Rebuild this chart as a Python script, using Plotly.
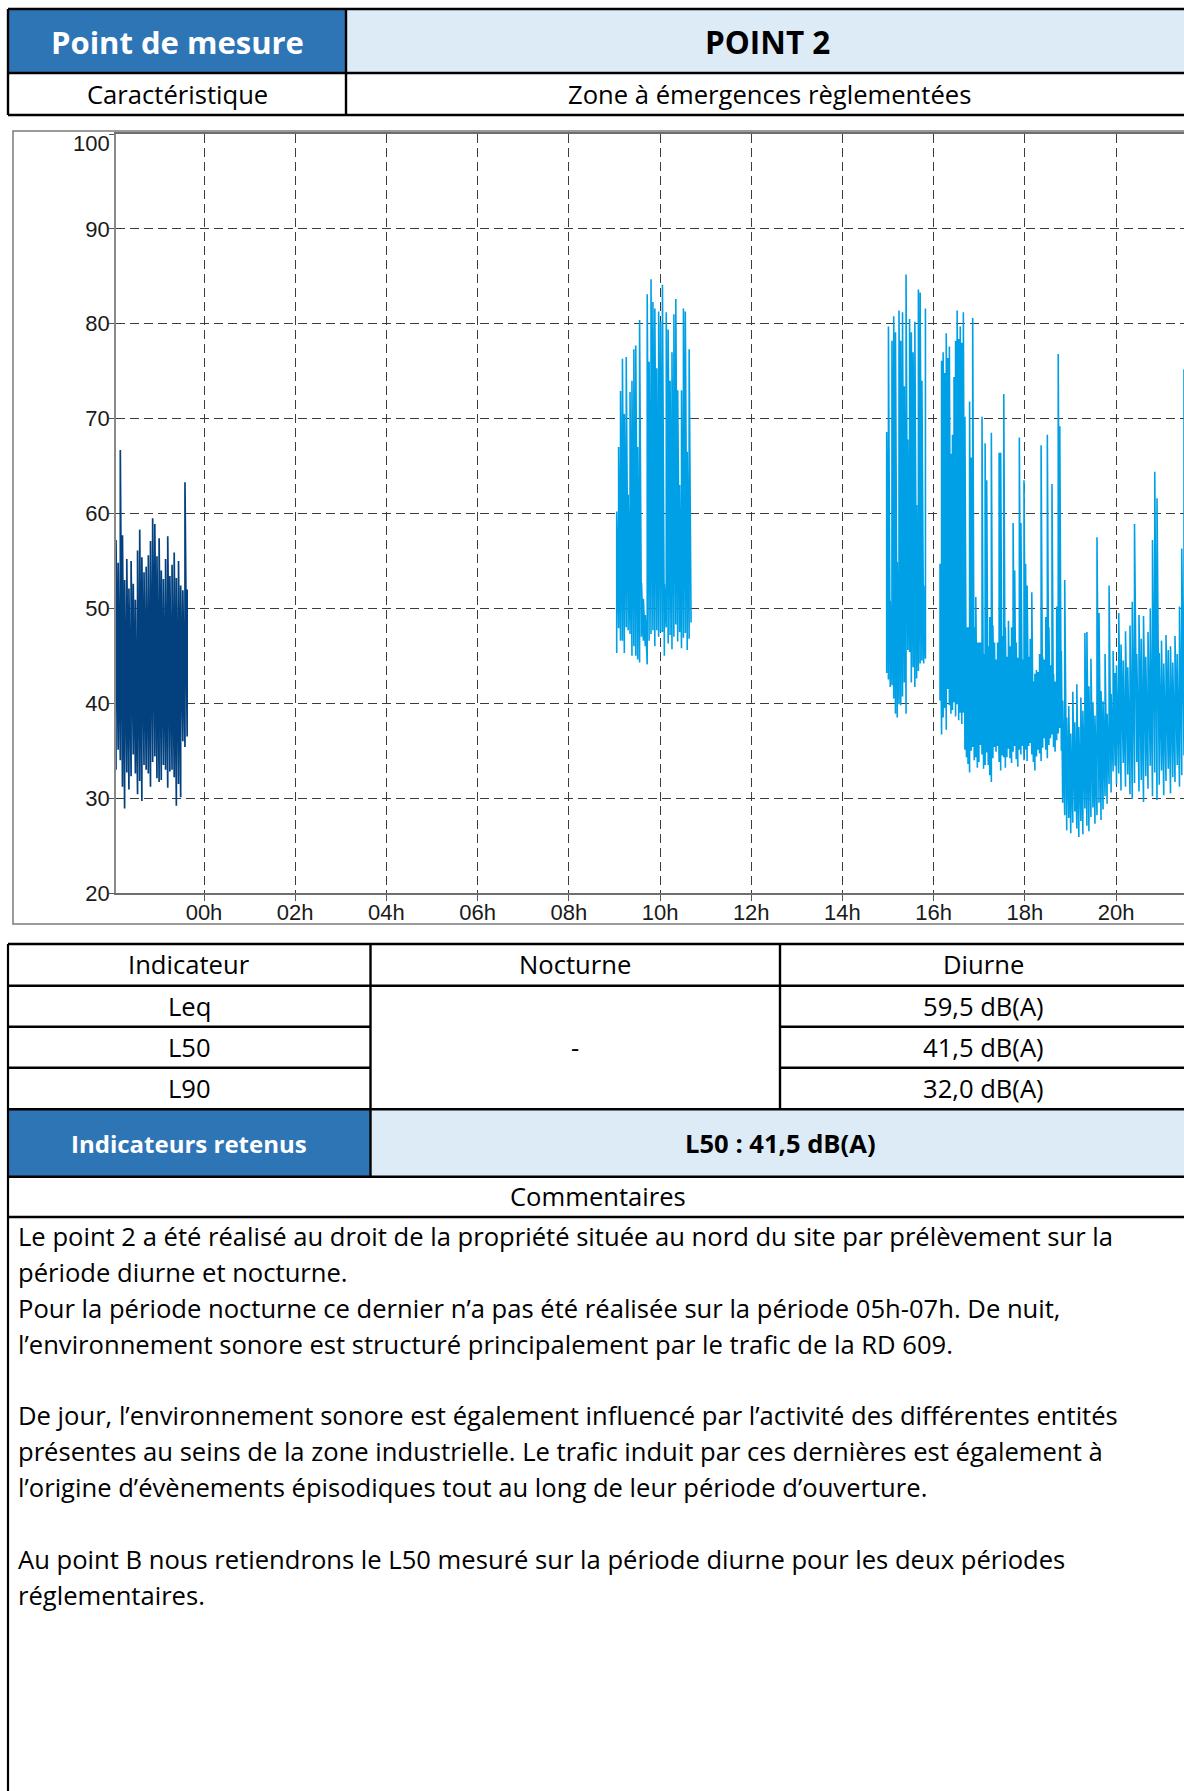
import plotly.graph_objects as go

# ---------------------------------------------------------------------------
# Measurement data: sound level (dB(A)), min / max envelope per time bin.
# Times are hours relative to midnight (negative = evening before).
# ---------------------------------------------------------------------------
NUIT_T = (-1.93, -0.37)
nuit_max = [57.2, 54.8, 66.7, 57.7, 53.0, 55.2, 52.1, 55.0, 52.6, 50.9,
            56.1, 58.3, 55.4, 53.8, 54.4, 55.6, 57.1, 59.5, 58.9, 55.5,
            57.4, 54.0, 53.1, 55.2, 57.6, 53.4, 54.6, 55.9, 53.2, 55.0,
            52.4, 51.9, 63.3, 52.0]
nuit_min = [33.0, 35.1, 34.0, 31.2, 28.9, 32.7, 30.9, 32.3, 34.6, 32.6,
            30.4, 31.8, 29.7, 33.5, 33.0, 32.6, 31.2, 33.8, 34.4, 32.1,
            31.7, 31.9, 33.5, 33.0, 31.1, 32.8, 33.0, 32.2, 29.2, 31.5,
            30.1, 36.0, 35.4, 36.5]

J1_T = (9.05, 10.68)
jour1_max = [60.2, 67.0, 72.9, 76.3, 70.5, 76.5, 62.0, 72.8, 74.0, 77.3,
             77.7, 67.0, 80.4, 52.7, 51.0, 49.3, 83.1, 76.0, 84.7, 82.3,
             81.6, 75.3, 81.3, 80.2, 84.1, 52.6, 81.2, 79.4, 74.0, 77.0,
             81.0, 82.6, 73.0, 63.0, 73.0, 81.6, 81.3, 66.5, 77.3, 49.6]
jour1_min = [45.3, 47.9, 46.6, 46.6, 45.3, 48.0, 47.7, 47.3, 45.0, 46.0,
             45.0, 44.6, 44.3, 47.0, 46.6, 46.0, 44.1, 46.6, 47.3, 47.7,
             46.0, 47.7, 47.0, 47.5, 47.5, 45.0, 48.0, 46.3, 47.2, 45.7,
             47.0, 48.3, 46.5, 47.5, 45.8, 46.9, 47.4, 45.6, 46.8, 48.5]

J2_T = (14.97, 15.82)
jour2_max = [68.6, 79.7, 50.8, 78.2, 80.8, 79.1, 54.9, 81.4, 78.2, 81.2,
             73.4, 85.2, 67.8, 80.5, 79.1, 77.0, 80.2, 60.9, 83.6, 83.3,
             74.0, 52.4, 81.6]
jour2_min = [43.2, 42.5, 41.7, 41.9, 40.5, 38.9, 38.5, 39.9, 39.8, 40.7,
             42.2, 38.9, 45.6, 45.4, 42.2, 43.8, 41.7, 42.6, 43.4, 44.2,
             44.5, 44.2, 44.7]

J3A_T = (16.14, 18.80)
jour3a_max = [54.7, 76.1, 77.0, 74.8, 79.0, 76.4, 77.6, 66.3, 68.3, 74.4,
              78.2, 81.4, 78.4, 79.7, 78.0, 81.2, 70.2, 48.0, 48.0, 71.8,
              65.9, 80.6, 48.0, 51.2, 46.4, 46.4, 46.4, 70.2, 45.2, 67.4,
              63.5, 46.0, 49.1, 68.5, 48.2, 46.4, 44.6, 46.4, 66.4, 66.4,
              47.1, 72.6, 48.0, 44.9, 48.7, 46.0, 48.0, 59.0, 54.0, 46.4,
              44.8, 68.0, 59.0, 44.6, 63.5, 54.7, 52.4, 44.9, 46.8, 51.7,
              42.3, 43.1, 43.5, 43.3, 45.2, 67.2, 44.9, 44.6, 49.1, 68.3,
              48.0, 44.0, 63.1, 43.1, 42.3, 50.2, 76.8, 69.2, 45.5]
jour3a_min = [40.3, 36.7, 38.5, 39.5, 37.2, 41.5, 39.8, 38.9, 39.3, 40.1,
              38.6, 39.9, 38.2, 39.0, 37.8, 39.0, 35.1, 34.3, 33.6, 32.7,
              35.0, 35.4, 34.0, 34.3, 33.2, 33.8, 35.6, 34.6, 33.1, 33.5,
              34.8, 33.5, 32.4, 31.7, 34.2, 35.4, 34.9, 35.5, 33.8, 32.9,
              34.5, 34.3, 33.2, 34.3, 35.2, 34.2, 33.7, 34.9, 35.5, 34.1,
              33.3, 35.1, 34.6, 35.5, 34.0, 35.1, 33.9, 35.5, 35.8, 34.6,
              33.8, 32.9, 34.4, 35.1, 34.7, 33.9, 35.3, 36.3, 35.1, 34.2,
              35.6, 36.3, 36.7, 35.4, 34.9, 36.1, 36.8, 37.4, 35.0]

J3B_T = (18.83, 19.98)
jour3b_max = [40.3, 53.0, 38.5, 39.7, 36.8, 41.2, 38.0, 42.0, 37.5, 40.6,
              39.2, 47.4, 47.5, 41.8, 44.7, 40.1, 38.7, 57.5, 49.5, 41.3,
              40.2, 45.2, 38.9, 52.4, 41.0, 45.5, 43.2]
jour3b_min = [29.5, 28.2, 26.6, 27.9, 26.3, 27.4, 28.6, 26.8, 25.9, 27.6,
              26.2, 28.9, 27.1, 26.5, 28.0, 29.0, 27.3, 28.2, 29.5, 27.7,
              28.8, 30.2, 29.4, 31.5, 30.6, 32.8, 33.4]

J3C_T = (20.01, 21.49)
jour3c_max = [44.0, 49.5, 46.2, 44.5, 47.6, 43.8, 48.2, 50.7, 58.9, 45.2,
              49.3, 46.8, 49.2, 44.9, 47.5, 50.0, 57.2, 64.4, 61.6, 45.3,
              46.6, 44.2, 47.2, 45.6, 46.0, 44.3, 47.1, 45.2, 50.2, 56.3,
              75.2]
jour3c_min = [31.5, 32.6, 30.8, 33.7, 31.2, 32.5, 30.4, 29.9, 31.6, 33.8,
              30.7, 31.9, 29.6, 32.3, 31.0, 33.4, 30.2, 32.7, 29.8, 31.4,
              32.9, 30.3, 31.8, 33.1, 30.5, 32.2, 31.7, 33.5, 31.2, 32.4,
              34.5]

HEURES = list(range(0, 21, 2))
HEURES_TXT = [f"{h:02d}h" for h in HEURES]
NIVEAUX = list(range(20, 101, 10))
X_RANGE = (-1.93, 21.49)

# Table contents
ENTETE = ("Point de mesure", "POINT 2")
CARACT = ("Caractéristique", "Zone à émergences règlementées")
COLONNES = ["Indicateur", "Nocturne", "Diurne"]
INDICATEURS = ["Leq", "L50", "L90"]
NOCTURNE = "-"
DIURNE = ["59,5 dB(A)", "41,5 dB(A)", "32,0 dB(A)"]
RETENUS = ("Indicateurs retenus", "L50 : 41,5 dB(A)")
COMMENTAIRES = [
    "Le point 2 a été réalisé au droit de la propriété située au nord du site par prélèvement sur la",
    "période diurne et nocturne.",
    "Pour la période nocturne ce dernier n’a pas été réalisée sur la période 05h-07h. De nuit,",
    "l’environnement sonore est structuré principalement par le trafic de la RD 609.",
    "",
    "De jour, l’environnement sonore est également influencé par l’activité des différentes entités",
    "présentes au seins de la zone industrielle. Le trafic induit par ces dernières est également à",
    "l’origine d’évènements épisodiques tout au long de leur période d’ouverture.",
    "",
    "Au point B nous retiendrons le L50 mesuré sur la période diurne pour les deux périodes",
    "réglementaires.",
]

# ---------------------------------------------------------------------------
# Layout is laid out on a 1184 x 1791 grid; the figure itself is a touch taller.
W, H = 1184, 1791
FIG_H = 1804
BLEU = "#2E75B6"
BLEU_CLAIR = "#DDEBF7"
C_NUIT = "#03417E"
C_JOUR = "#00A0E6"
FONT = "Open Sans"
TICKFONT = dict(family="Liberation Sans", size=22, color="#1a1a1a")
R = 1200  # tables run past the right edge of the page


def fx(x):
    return x / W


def fy(y):
    return 1 - y / H


def envelope(t_bounds, hauts, bas):
    t0, t1 = t_bounds
    n = len(hauts)
    xs, ys = [], []
    for i in range(n):
        t = t0 + (t1 - t0) * i / (n - 1)
        xs += [t, t]
        ys += [bas[i], hauts[i]]
    return xs, ys


fig = go.Figure()

xn, yn = envelope(NUIT_T, nuit_max, nuit_min)
fig.add_trace(go.Scatter(x=xn, y=yn, mode="lines",
                         line=dict(color=C_NUIT, width=1.7),
                         hoverinfo="skip", showlegend=False))

for bounds, hi, lo in [(J1_T, jour1_max, jour1_min), (J2_T, jour2_max, jour2_min)]:
    xd, yd = envelope(bounds, hi, lo)
    fig.add_trace(go.Scatter(x=xd, y=yd, mode="lines",
                             line=dict(color=C_JOUR, width=1.6),
                             hoverinfo="skip", showlegend=False))

x3, y3 = [], []
for bounds, hi, lo in [(J3A_T, jour3a_max, jour3a_min),
                       (J3B_T, jour3b_max, jour3b_min),
                       (J3C_T, jour3c_max, jour3c_min)]:
    xd, yd = envelope(bounds, hi, lo)
    x3 += xd
    y3 += yd
fig.add_trace(go.Scatter(x=x3, y=y3, mode="lines",
                         line=dict(color=C_JOUR, width=1.6),
                         hoverinfo="skip", showlegend=False))

shapes = []
annotations = []


def rect(x0, y0, x1, y1, fill):
    shapes.append(dict(type="rect", xref="paper", yref="paper",
                       x0=fx(x0), x1=fx(x1), y0=fy(y1), y1=fy(y0),
                       fillcolor=fill, line=dict(width=0), layer="below"))


def hline(x0, x1, y, w=2.4, color="#000000"):
    shapes.append(dict(type="line", xref="paper", yref="paper",
                       x0=fx(x0), x1=fx(x1), y0=fy(y), y1=fy(y),
                       line=dict(color=color, width=w)))


def vline(x, y0, y1, w=2.4, color="#000000"):
    shapes.append(dict(type="line", xref="paper", yref="paper",
                       x0=fx(x), x1=fx(x), y0=fy(y0), y1=fy(y1),
                       line=dict(color=color, width=w)))


def txt(x, y, s, size=25.6, bold=False, color="#000000", anchor="center"):
    annotations.append(dict(xref="paper", yref="paper", x=fx(x), y=fy(y),
                            text=f"<b>{s}</b>" if bold else s,
                            showarrow=False, xanchor=anchor, yanchor="middle",
                            font=dict(family=FONT, size=size, color=color)))


# --- header table ---
L = 8
rect(L, 9, 346, 73, BLEU)
rect(346, 9, R, 73, BLEU_CLAIR)
hline(L, R, 9)
hline(L, R, 73)
hline(L, R, 115)
vline(L, 9, 115)
vline(346, 9, 115)
txt(177, 42, ENTETE[0], size=31, bold=True, color="#FFFFFF")
txt(767, 42, ENTETE[1], size=31.5, bold=True)
txt(177, 95, CARACT[0])
txt(769, 95, CARACT[1])

# --- chart frame ---
shapes.append(dict(type="rect", xref="paper", yref="paper",
                   x0=fx(13), x1=fx(R), y0=fy(924), y1=fy(131),
                   line=dict(color="#7a7a7a", width=1.5)))

# --- indicator table ---
C1, C2 = 370.5, 780
rows = [944, 985.7, 1026.7, 1067.7, 1109.3, 1176.7, 1217]
rect(L, rows[4], C1, rows[5], BLEU)
rect(C1, rows[4], R, rows[5], BLEU_CLAIR)
hline(L, R, rows[0])
hline(L, R, rows[1])
for y in (rows[2], rows[3]):
    hline(L, C1, y)
    hline(C2, R, y)
hline(L, R, rows[4])
hline(L, R, rows[5])
hline(L, R, rows[6])
vline(L, rows[0], H + 20, w=2.2)
vline(C1, rows[0], rows[5])
vline(C2, rows[0], rows[4])

cx = [(L + C1) / 2, (C1 + C2) / 2, (C2 + 1188) / 2]
for c, s in zip(cx, COLONNES):
    txt(c, (rows[0] + rows[1]) / 2, s)
for i, (ind, val) in enumerate(zip(INDICATEURS, DIURNE)):
    yc = (rows[i + 1] + rows[i + 2]) / 2
    txt(cx[0], yc, ind)
    txt(cx[2], yc, val)
txt(cx[1], (rows[1] + rows[4]) / 2, NOCTURNE)
txt(cx[0], (rows[4] + rows[5]) / 2, RETENUS[0], size=24, bold=True, color="#FFFFFF")
txt(780, (rows[4] + rows[5]) / 2, RETENUS[1], size=25.6, bold=True)
txt(598, (rows[5] + rows[6]) / 2, "Commentaires")

# --- comments ---
for i, line in enumerate(COMMENTAIRES):
    if line:
        txt(16, 1236.5 + i * 35.85, line, size=25.6, anchor="left")

# "100" label sits a little below its tick, inside the frame
annotations.append(dict(xref="paper", yref="y", x=fx(112), y=100, yshift=-10,
                        text="100", showarrow=False, xanchor="right",
                        yanchor="middle", font=TICKFONT))

fig.update_layout(
    width=W, height=FIG_H,
    margin=dict(l=0, r=0, t=0, b=0),
    paper_bgcolor="#FFFFFF",
    plot_bgcolor="#FFFFFF",
    shapes=shapes,
    annotations=annotations,
    xaxis=dict(domain=[fx(116), 1.0], range=list(X_RANGE),
               tickmode="array", tickvals=HEURES, ticktext=HEURES_TXT,
               showgrid=True, gridcolor="#3c3c3c", gridwidth=1.2,
               griddash="9px,5px",
               showline=True, linecolor="#6e6e6e", linewidth=1.5, mirror=True,
               ticks="outside", ticklen=6, tickcolor="#555555",
               tickfont=TICKFONT, ticklabelstandoff=-7,
               zeroline=False, fixedrange=True),
    yaxis=dict(domain=[fy(893), fy(134)], range=[20, 100],
               tickmode="array", tickvals=NIVEAUX,
               ticktext=[str(v) if v < 100 else "" for v in NIVEAUX],
               showgrid=True, gridcolor="#3c3c3c", gridwidth=1.2,
               griddash="9px,5px",
               showline=True, linecolor="#8a8a8a", linewidth=1.5,
               ticks="outside", ticklen=5, tickcolor="#555555",
               tickfont=TICKFONT, ticklabelstandoff=-5,
               zeroline=False, fixedrange=True),
)

fig.write_html("out.html", config={"displayModeBar": False})
